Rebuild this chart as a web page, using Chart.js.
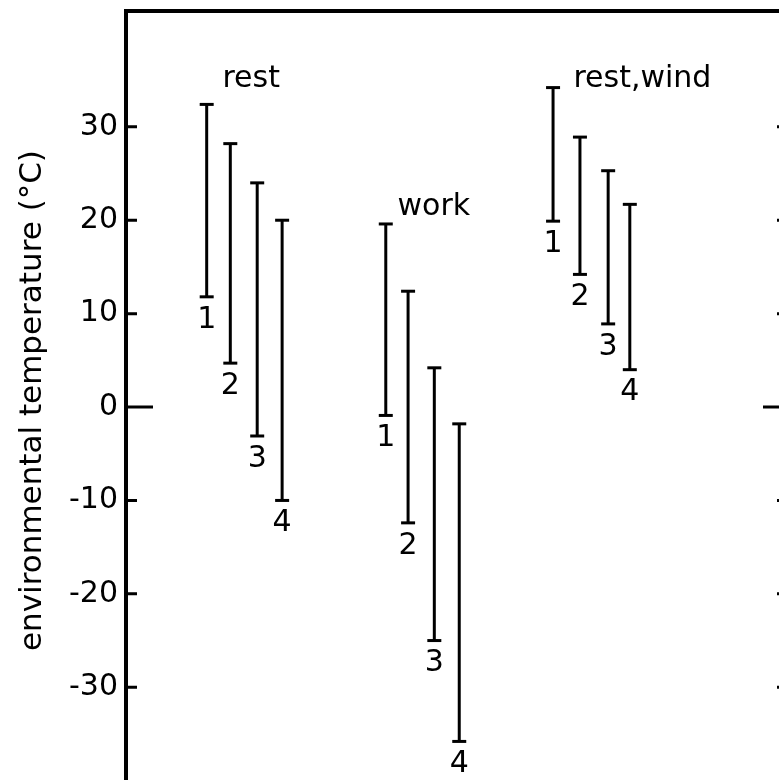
<!DOCTYPE html>
<html>
<head>
<meta charset="utf-8">
<script src="https://cdn.jsdelivr.net/npm/chart.js@4"></script>
<style>
	html, body { margin: 0; padding: 0; background: #fff; overflow: hidden; }
	canvas { display: block; }
</style>
</head>
<body>
<canvas id="myChart" width="800" height="800"></canvas>
<script>
const groups = ['rest', 'work', 'rest,wind'];
const memberLabels = ['1', '2', '3', '4'];
// where each range stands along the frame (0 - 10)
const restX = [1.23, 1.59, 2.0, 2.38];
const workX = [3.96, 4.3, 4.7, 5.08];
const windX = [6.51, 6.92, 7.35, 7.68];
// lowest and highest temperature of each range (°C)
const restLow = [11.8, 4.7, -3.1, -10.0];
const restHigh = [32.4, 28.2, 24.0, 20.0];
const workLow = [-0.9, -12.4, -25.0, -35.8];
const workHigh = [19.6, 12.4, 4.2, -1.8];
const windLow = [19.9, 14.2, 8.9, 4.0];
const windHigh = [34.2, 28.9, 25.3, 21.7];
// group names anchored in data units
const groupLabelX = [1.47, 4.14, 6.82];
const groupLabelY = [34.3, 20.6, 34.3];
const yTicks = [-30, -20, -10, 0, 10, 20, 30];

const xs = [restX, workX, windX];
const lows = [restLow, workLow, windLow];
const highs = [restHigh, workHigh, windHigh];

const ranges = [];
groups.forEach((g, gi) => {
	memberLabels.forEach((m, i) => {
		ranges.push({ x: xs[gi][i], low: lows[gi][i], high: highs[gi][i], label: m });
	});
});

const datasets = ranges.map((r) => ({
	data: [
		{ x: r.x, y: r.low },
		{ x: r.x, y: r.high },
	],
	showLine: true,
	borderColor: '#000',
	borderWidth: 3,
	pointStyle: 'line',
	pointRadius: 7,
	pointBorderWidth: 3,
	pointBorderColor: '#000',
	pointBackgroundColor: '#000',
}));

const font = '"DejaVu Sans"';

// inward ticks on both sides, numbers under the ranges and group names
const decor = {
	id: 'decor',
	afterDatasetsDraw(chart) {
		const { ctx, chartArea, scales } = chart;
		const x = scales.x, y = scales.y;
		ctx.save();
		ctx.strokeStyle = '#000';
		ctx.lineWidth = 3;
		yTicks.forEach((v) => {
			const py = y.getPixelForValue(v);
			ctx.beginPath();
			ctx.moveTo(chartArea.left, py);
			ctx.lineTo(chartArea.left + (v === 0 ? 27 : 11), py);
			ctx.moveTo(chartArea.right, py);
			ctx.lineTo(chartArea.right - (v === 0 ? 19 : 5), py);
			ctx.stroke();
		});
		ctx.fillStyle = '#000';
		ctx.font = '30px ' + font;
		ctx.textAlign = 'center';
		ctx.textBaseline = 'top';
		ranges.forEach((r) => {
			ctx.fillText(r.label, x.getPixelForValue(r.x), y.getPixelForValue(r.low) + 8);
		});
		ctx.textAlign = 'left';
		ctx.textBaseline = 'alphabetic';
		groups.forEach((g, i) => {
			ctx.fillText(g, x.getPixelForValue(groupLabelX[i]), y.getPixelForValue(groupLabelY[i]));
		});
		ctx.restore();
	},
};

const config = {
	type: 'scatter',
	data: { datasets: datasets },
	options: {
		responsive: false,
		animation: false,
		devicePixelRatio: 1,
		layout: { padding: { top: 0, left: 0, right: 0, bottom: 9 } },
		plugins: { legend: { display: false }, tooltip: { enabled: false } },
		scales: {
			x: {
				type: 'linear',
				position: 'top',
				min: 0,
				max: 10,
				ticks: { display: false },
				grid: { display: false, drawTicks: false },
				border: { display: true, color: '#000', width: 4 },
				afterFit: (s) => { s.height = 11; },
			},
			y: {
				position: 'left',
				min: -41,
				max: 42.4,
				afterBuildTicks: (s) => { s.ticks = yTicks.map((v) => ({ value: v })); },
				ticks: { color: '#000', padding: 8, font: { family: 'DejaVu Sans', size: 30 } },
				grid: { display: false, drawTicks: false },
				border: { display: true, color: '#000', width: 4 },
				title: {
					display: true,
					text: 'environmental temperature (°C)',
					color: '#000',
					font: { family: 'DejaVu Sans', size: 31 },
					padding: { top: 14, bottom: 0 },
				},
				afterFit: (s) => { s.width = 126; s.paddingTop = 0; s.paddingBottom = 0; },
			},
			y2: {
				display: true,
				position: 'right',
				ticks: { display: false },
				grid: { display: false, drawTicks: false },
				border: { display: true, color: '#000', width: 4 },
				afterFit: (s) => { s.width = 18; },
			},
		},
	},
	plugins: [decor],
};

const myChart = new Chart(document.getElementById('myChart'), config);
</script>
</body>
</html>
